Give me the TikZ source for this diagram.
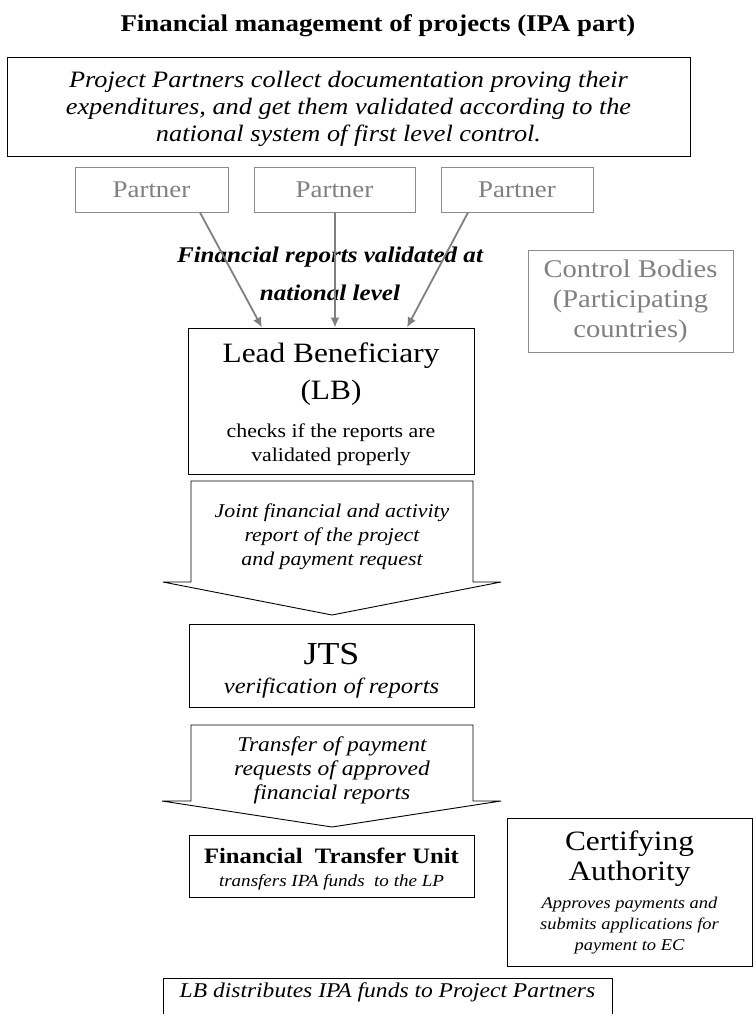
\documentclass[tikz,border=0pt]{standalone}
\usepackage{fontspec}
\setmainfont[FakeStretch=1.12]{Liberation Serif}
\usepackage{tikz}
\usetikzlibrary{arrows.meta}

\newcommand{\fsz}[2]{\fontsize{#1}{#2}\selectfont\lineskiplimit=-40pt}

\begin{document}
\begin{tikzpicture}[x=1pt,y=-1pt,
  box/.style={draw,fill=white,line width=1pt,align=center,inner sep=2pt},
  graybox/.style={draw=black!45,text=black!50,fill=white,line width=1pt,align=center,inner sep=2pt},
  flow/.style={-{Latex[length=10pt,width=9pt]},black!50,line width=1.8pt},
  blockarrow/.style={draw,fill=white,line width=0.9pt}]
  \clip (0,0) rectangle (755,1014);
  \fill[white] (0,0) rectangle (755,1014);

  \node[anchor=base,font=\bfseries\fsz{24}{28}] (title) at (378,32) {Financial management of projects (IPA part)};
  \node[box,minimum width=683pt,minimum height=98pt,font=\itshape\fsz{23.5}{27}] (collect) at (348.5,107)
    {\rule{0pt}{20pt}Project Partners collect documentation proving their\\
     expenditures, and get them validated according to the\\
     national system of first level control.};

  % partners
  \node[graybox,minimum width=153pt,minimum height=45pt,font=\fsz{24}{28}] (p1) at (151.5,189.5) {Partner};
  \node[graybox,minimum width=161pt,minimum height=45pt,font=\fsz{24}{28}] (p2) at (334.5,189.5) {Partner};
  \node[graybox,minimum width=152pt,minimum height=45pt,font=\fsz{24}{28}] (p3) at (517,189.5) {Partner};
  \node[graybox,minimum width=205pt,minimum height=102pt,font=\fsz{25.5}{30}] (control) at (630.5,301)
    {Control Bodies\\(Participating\\countries)};

  \node[align=center,font=\bfseries\itshape\fsz{22.4}{38}] (validated) at (330,273.5)
    {Financial reports validated at\\national level};

  \node[box,minimum width=286pt,minimum height=146pt,font=\fsz{19.5}{24}] (lb) at (331,401)
    {\fsz{28}{37}\rule{0pt}{27pt}Lead Beneficiary\\[13pt]
     \fsz{28}{37}(LB)\\[14pt]
     checks if the reports are\\validated properly};

  \draw[flow] ([xshift=48.5pt]p1.south) -- ([xshift=-69pt]lb.north);
  \draw[flow] ([xshift=0.5pt]p2.south) -- ([xshift=4pt]lb.north);
  \draw[flow] ([xshift=-49pt]p3.south) -- ([xshift=76pt]lb.north);

  % joint report arrow
  \draw[blockarrow] (191,481) -- (473,481) -- (473,582) -- (501,582) -- (332,615)
    -- (163,582) -- (191,582) -- cycle;
  \node[align=center,font=\itshape\fsz{19.5}{24}] (joint) at (332,537)
    {Joint financial and activity\\report of the project\\and payment request};

  \node[box,minimum width=285pt,minimum height=83pt,font=\itshape\fsz{22}{29}] (jts) at (331.5,665.5)
    {\upshape\fsz{32}{34}\rule{0pt}{31pt}JTS\\verification of reports};

  % transfer arrow
  \draw[blockarrow] (191,725) -- (473,725) -- (473,801) -- (501,801) -- (332,827)
    -- (162,801) -- (191,801) -- cycle;
  \node[align=center,font=\itshape\fsz{21}{24}] (transfer) at (332,770)
    {Transfer of payment\\requests of approved\\financial reports};

  \node[box,minimum width=285pt,minimum height=62pt,font=\itshape\fsz{17}{23}] (ftu) at (331.5,866)
    {\upshape\bfseries\fsz{22}{24}\rule{0pt}{22.5pt}Financial\ \ Transfer Unit\\transfers IPA funds\ \ to the LP};

  \node[box,minimum width=245pt,minimum height=148pt,font=\itshape\fsz{16.5}{21}] (ca) at (629.5,892)
    {\upshape\fsz{28}{30}Certifying\\[9pt]
     \upshape\fsz{28}{30}Authority\\[7pt]
     Approves payments and\\submits applications for\\payment to EC};

  \node[box,anchor=north,minimum width=449pt,inner sep=3pt,text height=16pt,text depth=40pt,
    font=\itshape\fsz{21}{24}] (distribute) at (387.5,978) {LB distributes IPA funds to Project Partners};
\end{tikzpicture}
\end{document}
